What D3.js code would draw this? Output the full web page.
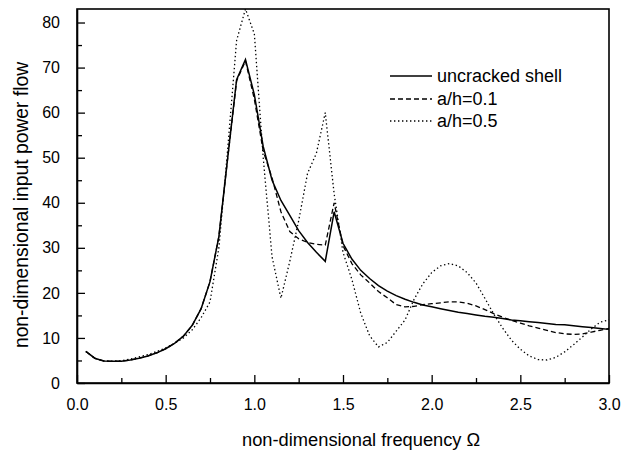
<!DOCTYPE html>
<html>
<head>
<meta charset="utf-8">
<script src="https://cdn.jsdelivr.net/npm/d3@7"></script>
<style>
  html, body { margin: 0; padding: 0; background: #fff; }
  svg { display: block; font-family: "Liberation Sans", Arial, Helvetica, sans-serif; }
</style>
</head>
<body>
<svg id="chart" width="622" height="450"></svg>
<script>
// ---- data ----
const omega = [0.05,0.10,0.15,0.20,0.25,0.30,0.35,0.40,0.45,0.50,0.55,0.60,0.65,0.70,0.75,0.80,0.85,0.90,0.95,1.00,
  1.05,1.10,1.15,1.20,1.25,1.30,1.35,1.40,1.45,1.50,1.55,1.60,1.65,1.70,1.75,1.80,1.85,1.90,1.95,2.00,
  2.05,2.10,2.15,2.20,2.25,2.30,2.35,2.40,2.45,2.50,2.55,2.60,2.65,2.70,2.75,2.80,2.85,2.90,2.95,3.00];

const uncracked = [7.0,5.5,4.9,4.8,4.85,5.1,5.5,6.0,6.7,7.6,8.8,10.4,12.8,16.5,22.5,32.5,50.0,67.3,71.8,64.0,
  52.5,45.0,40.5,37.2,33.8,31.2,29.0,27.0,38.0,31.0,27.5,25.0,23.2,21.6,20.4,19.4,18.6,17.9,17.3,16.9,
  16.5,16.1,15.7,15.4,15.1,14.8,14.6,14.3,14.0,13.8,13.6,13.4,13.2,13.0,12.9,12.7,12.5,12.3,12.1,11.9];

const crack01 = [7.0,5.5,4.9,4.8,4.85,5.1,5.5,6.0,6.7,7.6,8.8,10.4,12.8,16.5,22.5,32.5,50.0,67.0,71.5,63.0,
  51.5,45.5,38.0,33.6,32.0,31.2,30.8,30.6,40.0,30.5,26.5,24.0,22.2,20.3,18.9,17.4,16.9,17.0,17.4,17.6,
  17.8,18.0,18.0,17.7,17.1,16.3,15.4,14.6,13.9,13.3,12.7,12.2,11.7,11.2,10.9,10.8,10.9,11.3,11.7,12.1];

const crack05 = [7.0,5.5,4.9,4.85,4.95,5.3,5.8,6.3,7.0,7.8,8.8,10.0,11.8,14.5,18.0,30.0,52.0,76.0,83.0,77.5,
  50.0,28.0,18.8,27.0,36.0,46.5,51.0,60.0,42.0,29.0,23.0,15.5,10.5,8.0,9.0,11.5,14.0,18.5,22.0,24.5,
  26.0,26.5,26.0,24.5,22.2,18.8,15.3,12.2,9.5,7.5,6.0,5.2,5.1,5.7,6.9,8.5,10.2,12.0,13.5,14.0];

const seriesNames = ["uncracked shell", "a/h=0.1", "a/h=0.5"];
const seriesData = [uncracked, crack01, crack05];
const seriesDash = [null, "5,3", "1.4,2.6"];

const xMajor = [0, 0.5, 1.0, 1.5, 2.0, 2.5, 3.0];
const xMinor = [0.25, 0.75, 1.25, 1.75, 2.25, 2.75];
const yMajor = [0, 10, 20, 30, 40, 50, 60, 70, 80];
const yMinor = [5, 15, 25, 35, 45, 55, 65, 75];

// ---- layout ----
const L = 77, R = 609, T = 9, B = 383;
const svg = d3.select("#chart");
const x = d3.scaleLinear().domain([0, 3]).range([L, R]);
const y = d3.scaleLinear().domain([0, 83]).range([B, T]);

// axes
svg.append("g").attr("transform", `translate(0,${B})`)
  .call(d3.axisBottom(x).tickValues(xMajor).tickFormat(d3.format(".1f"))
    .tickSizeInner(-8).tickSizeOuter(0).tickPadding(16));
svg.append("g").attr("transform", `translate(0,${B})`)
  .call(d3.axisBottom(x).tickValues(xMinor).tickFormat("").tickSizeInner(-5).tickSizeOuter(0))
  .select(".domain").remove();
svg.append("g").attr("transform", `translate(${L},0)`)
  .call(d3.axisLeft(y).tickValues(yMajor).tickFormat(d3.format("d"))
    .tickSizeInner(-8).tickSizeOuter(0).tickPadding(17));
svg.append("g").attr("transform", `translate(${L},0)`)
  .call(d3.axisLeft(y).tickValues(yMinor).tickFormat("").tickSizeInner(-5).tickSizeOuter(0))
  .select(".domain").remove();

svg.selectAll(".tick line").attr("stroke", "#000").attr("stroke-width", 1.3);
svg.selectAll(".domain").attr("stroke", "#000").attr("stroke-width", 1.6);
svg.selectAll(".tick text").attr("font-size", 16).attr("fill", "#000")
  .attr("font-family", "Liberation Sans, Arial, sans-serif");

// frame
svg.append("rect").attr("x", L).attr("y", T).attr("width", R - L).attr("height", B - T)
  .attr("fill", "none").attr("stroke", "#000").attr("stroke-width", 1.6);

// lines
const line = d3.line().x((d, i) => x(omega[i])).y(d => y(d));
seriesData.forEach((s, k) => {
  svg.append("path").datum(s)
    .attr("d", line)
    .attr("fill", "none")
    .attr("stroke", "#000")
    .attr("stroke-width", k === 0 ? 1.5 : 1.3)
    .attr("stroke-dasharray", seriesDash[k]);
});

// legend
const legY = [76, 99, 121];
seriesNames.forEach((n, k) => {
  svg.append("line").attr("x1", 390).attr("x2", 432).attr("y1", legY[k]).attr("y2", legY[k])
    .attr("stroke", "#000").attr("stroke-width", k === 0 ? 1.5 : 1.3)
    .attr("stroke-dasharray", seriesDash[k]);
  svg.append("text").attr("x", 437).attr("y", legY[k]).attr("dy", "0.35em")
    .attr("font-size", 18).text(n);
});

// axis titles
svg.append("text").attr("x", 242).attr("y", 440).attr("dy", "0.35em")
  .attr("text-anchor", "start").attr("font-size", 18.3)
  .text("non-dimensional frequency Ω");
svg.append("text").attr("transform", `translate(21,205) rotate(-90)`)
  .attr("dy", "0.35em").attr("text-anchor", "middle").attr("font-size", 19.3)
  .text("non-dimensional input power flow");
</script>
</body>
</html>
